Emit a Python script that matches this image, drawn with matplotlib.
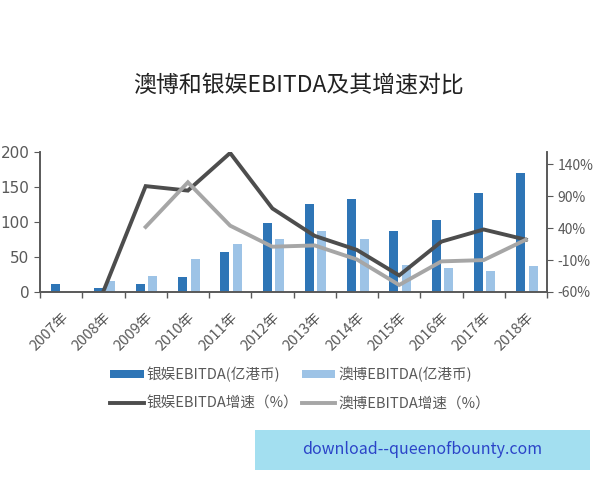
import matplotlib.pyplot as plt
from matplotlib.patches import Rectangle
from matplotlib.ticker import FuncFormatter
import matplotlib.transforms as mtransforms
import numpy as np

plt.rcParams['font.family'] = ['Noto Sans CJK SC', 'DejaVu Sans']

years = ['2007年', '2008年', '2009年', '2010年', '2011年', '2012年',
         '2013年', '2014年', '2015年', '2016年', '2017年', '2018年']
# 银娱 / 澳博 EBITDA (亿港币)
galaxy_ebitda = [11, 5, 11, 21, 57, 99, 126, 132, 87, 103, 141, 169]
sjm_ebitda = [0, 15, 23, 47, 69, 76, 87, 76, 38, 34, 30, 37]
# growth (%), None = no value
galaxy_growth = [None, -59, 106, 99, 158, 71, 28, 6, -34, 19, 38, 22]
sjm_growth = [None, None, 42, 112, 44, 11, 13, -9, -49, -12, -10, 22]

c_dark_bar = '#2E75B6'
c_light_bar = '#9DC3E6'
c_dark_line = '#4D4D4D'
c_light_line = '#A6A6A6'
c_text = '#595959'

fig = plt.figure(figsize=(6, 4.8), dpi=100)
ax = fig.add_axes([0.0667, 0.3917, 0.845, 0.2923])
ax2 = ax.twinx()

x = np.arange(len(years))
b1 = ax.bar(x - 0.125, galaxy_ebitda, width=0.21, color=c_dark_bar, label='银娱EBITDA(亿港币)', zorder=2)
b2 = ax.bar(x + 0.17, sjm_ebitda, width=0.21, color=c_light_bar, label='澳博EBITDA(亿港币)', zorder=2)

g = np.array([np.nan if v is None else v for v in galaxy_growth], dtype=float)
s = np.array([np.nan if v is None else v for v in sjm_growth], dtype=float)
l1, = ax2.plot(x, g, color=c_dark_line, lw=2.8, label='银娱EBITDA增速（%）', solid_joinstyle='miter')
l2, = ax2.plot(x, s, color=c_light_line, lw=2.8, label='澳博EBITDA增速（%）', solid_joinstyle='miter')

ax.set_xlim(-0.5, 11.5)
ax.set_ylim(0, 200)
ax.set_yticks([0, 50, 100, 150, 200])
ax2.set_ylim(-60, 160)
ax2.set_yticks([-60, -10, 40, 90, 140])
ax2.yaxis.set_major_formatter(FuncFormatter(lambda v, p: '%d%%' % v))

ax.set_xticks(x)
ax.set_xticklabels(years, rotation=45, ha='right', rotation_mode='anchor')
shift = mtransforms.ScaledTranslation(4 / 100, -2 / 100, fig.dpi_scale_trans)
for lab in ax.get_xticklabels():
    lab.set_transform(lab.get_transform() + shift)
ax.set_xticks(np.arange(-0.5, 12, 1), minor=True)
ax.tick_params(axis='x', which='major', length=0, pad=13, labelsize=10.5, labelcolor=c_text)
ax.tick_params(axis='x', which='minor', length=4, color=c_text, width=1)
ax.tick_params(axis='y', length=4, color=c_text, labelsize=11, labelcolor=c_text)
ax2.tick_params(axis='y', length=4, color=c_text, labelsize=10, labelcolor=c_text)
for lab in ax.get_yticklabels():
    lab.set_fontfamily('DejaVu Sans')

for a in (ax, ax2):
    a.spines['top'].set_visible(False)
    for sp in ('left', 'right', 'bottom'):
        a.spines[sp].set_color(c_text)
        a.spines[sp].set_linewidth(1.2)

fig.text(0.497, 0.823, '澳博和银娱EBITDA及其增速对比', ha='center', va='center',
         fontsize=16.5, color='#222222')

fig.legend([b1, l1, b2, l2],
           ['银娱EBITDA(亿港币)', '银娱EBITDA增速（%）', '澳博EBITDA(亿港币)', '澳博EBITDA增速（%）'],
           ncol=2, loc='center', bbox_to_anchor=(0.5, 0.19),
           frameon=False, fontsize=10.5, labelcolor=c_text, handlelength=2.3,
           handleheight=0.45, handletextpad=0.2, columnspacing=0.25, labelspacing=0.95)

fig.patches.append(Rectangle((255 / 600, 1 - 470 / 480), 335 / 600, 40 / 480,
                             transform=fig.transFigure, facecolor='#A3DFF0',
                             edgecolor='none', zorder=0))
fig.text(422 / 600, 1 - 450 / 480, 'download--queenofbounty.com', ha='center', va='center',
         fontsize=11.5, color='#2B44C8')

fig.savefig('out.png', dpi=100)
